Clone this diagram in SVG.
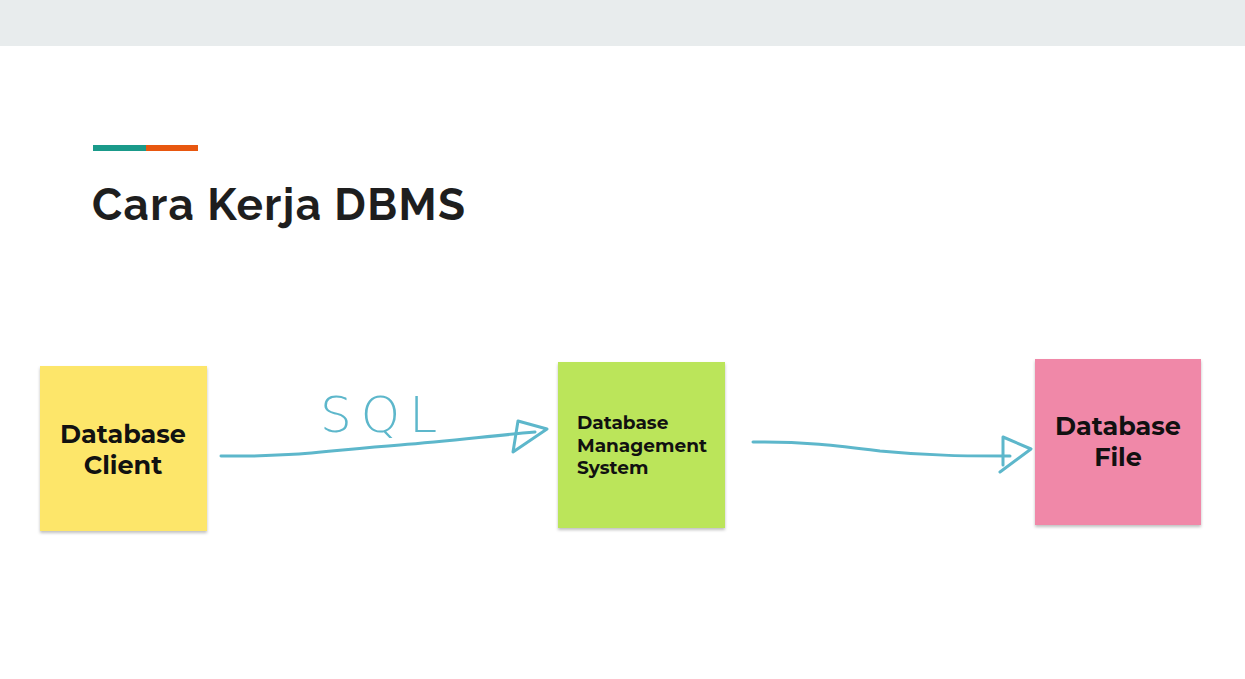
<svg xmlns="http://www.w3.org/2000/svg" width="1245" height="679" viewBox="0 0 1245 679">
<style>
.note{filter:url(#sh)}
.lbl{font-family:Montserrat,"Noto Sans","Liberation Sans",sans-serif;font-weight:700;fill:#111}
.conn{fill:none;stroke:#5DB7CB;stroke-width:3;stroke-linecap:round;stroke-linejoin:round}
</style>
<defs>
<filter id="sh" x="-10%" y="-10%" width="120%" height="120%">
<feDropShadow dx="0" dy="2" stdDeviation="1.5" flood-color="#000" flood-opacity="0.25"/>
</filter>
</defs>
<rect width="1245" height="679" fill="#fff"/>
<rect width="1245" height="46" fill="#E8ECED"/>
<rect x="93" y="145" width="53" height="6" fill="#1A9A8A"/>
<rect x="146" y="145" width="52" height="6" fill="#E8570F"/>
<text x="92" y="220" font-family="Raleway,'Open Sans','Liberation Sans',sans-serif" font-weight="700" font-size="44" fill="#1E1E1E" textLength="373" lengthAdjust="spacing">Cara Kerja DBMS</text>

<g id="client">
<rect class="note" x="40" y="366" width="167" height="165" fill="#FDE66A"/>
<text class="lbl" x="123" y="443" font-size="25.5" text-anchor="middle">Database</text>
<text class="lbl" x="123" y="474" font-size="25.5" text-anchor="middle">Client</text>
</g>
<g id="dbms">
<rect class="note" x="558" y="362" width="167" height="166" fill="#BBE55A"/>
<text class="lbl" x="577" y="429" font-size="18.5">Database</text>
<text class="lbl" x="577" y="452" font-size="18.5">Management</text>
<text class="lbl" x="577" y="474" font-size="18.5">System</text>
</g>
<g id="file">
<rect class="note" x="1035" y="359" width="166" height="166" fill="#F088A8"/>
<text class="lbl" x="1118" y="435" font-size="25.5" text-anchor="middle">Database</text>
<text class="lbl" x="1118" y="466" font-size="25.5" text-anchor="middle">File</text>
</g>

<g id="connectors">
<path class="conn" d="M221,456 C300,457 330,450 400,445 C450,441 490,436 535,432"/>
<path class="conn" d="M518,421 L547,429 L513,452 L518,421"/>
<text x="320" y="432" font-family="'DejaVu Sans','Liberation Sans',sans-serif" font-weight="300" font-size="50" fill="#5DB7CB" textLength="117" lengthAdjust="spacing">SQL</text>
<path class="conn" d="M753,442 C800,441 840,446 880,451 C930,456 970,456 1010,456"/>
<path class="conn" d="M1003,437 L1031,449 L1000,472 M1003,437 L1003,465"/>
</g>
</svg>
